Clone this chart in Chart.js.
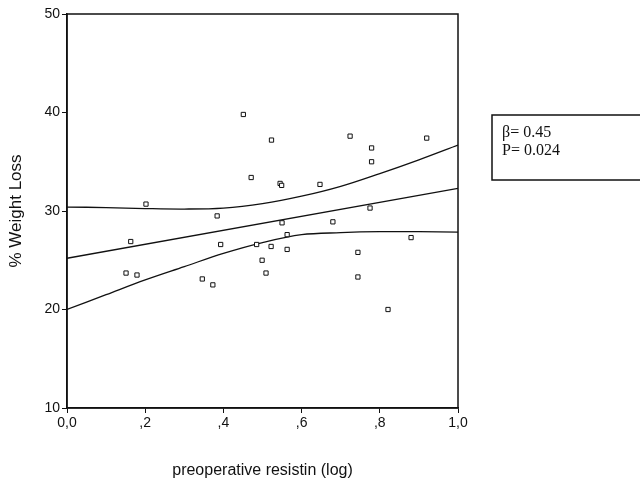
<!DOCTYPE html>
<html>
<head>
<meta charset="utf-8">
<script src="https://cdn.jsdelivr.net/npm/chart.js@4"></script>
<style>
  html, body { margin: 0; padding: 0; background: #fff; }
  #wrap { width: 640px; height: 480px; }
</style>
</head>
<body>
<div id="wrap"><canvas id="chart" width="640" height="480"></canvas></div>
<script>
// scatter points
const resistin = [0.151, 0.163, 0.179, 0.202, 0.346, 0.373, 0.384, 0.393, 0.451, 0.471,
                  0.485, 0.499, 0.509, 0.523, 0.522, 0.545, 0.549, 0.550, 0.563, 0.563,
                  0.647, 0.680, 0.724, 0.744, 0.744, 0.775, 0.779, 0.779, 0.821, 0.880, 0.920];
const weightLoss = [23.7, 26.9, 23.5, 30.7, 23.1, 22.5, 29.5, 26.6, 39.8, 33.4,
                    26.6, 25.0, 23.7, 37.2, 26.4, 32.8, 32.6, 28.8, 27.6, 26.1,
                    32.7, 28.9, 37.6, 25.8, 23.3, 30.3, 36.4, 35.0, 20.0, 27.3, 37.4];

// regression line and confidence band
const fitX = [0, 1];
const fitY = [25.2, 32.3];
const bandX = [0, 0.1, 0.2, 0.3, 0.4, 0.5, 0.6, 0.7, 0.8, 0.9, 1.0];
const upperBand = [30.4, 30.35, 30.25, 30.2, 30.3, 30.75, 31.5, 32.5, 33.8, 35.2, 36.7];
const lowerBand = [20.0, 21.5, 23.0, 24.35, 25.7, 26.8, 27.6, 27.8, 27.9, 27.9, 27.85];

const xTickValues = [0, 0.2, 0.4, 0.6, 0.8, 1.0];
const xTickLabels = ['0,0', ',2', ',4', ',6', ',8', '1,0'];
const yTickValues = [10, 20, 30, 40, 50];

const statLines = ['\u03b2= 0.45', 'P= 0.024'];

const toPoints = (xs, ys) => xs.map((x, i) => ({ x: x, y: ys[i] }));

const lineStyle = {
    type: 'line',
    borderColor: '#111',
    borderWidth: 1.3,
    pointRadius: 0,
    fill: false,
    tension: 0.35
};

// frame around plot + the stats box on the right
const framePlugin = {
    id: 'frame',
    afterDraw(chart) {
        const ctx = chart.ctx;
        const a = chart.chartArea;
        ctx.save();
        ctx.strokeStyle = '#111';
        ctx.lineWidth = 1.5;
        ctx.strokeRect(a.left, a.top, a.right - a.left, a.bottom - a.top);

        const bx = a.right + 34, by = 115;
        ctx.strokeRect(bx, by, 200, 65);
        ctx.fillStyle = '#111';
        ctx.font = '16px "Liberation Serif", "Times New Roman", serif';
        ctx.textBaseline = 'middle';
        ctx.fillText(statLines[0], bx + 10, by + 18);
        ctx.fillText(statLines[1], bx + 10, by + 36);
        ctx.restore();
    }
};

new Chart(document.getElementById('chart'), {
    type: 'scatter',
    data: {
        datasets: [
            {
                label: 'points',
                data: toPoints(resistin, weightLoss),
                pointStyle: 'rect',
                pointRadius: 3,
                backgroundColor: '#fff',
                borderColor: '#111',
                borderWidth: 1
            },
            Object.assign({ label: 'fit', data: toPoints(fitX, fitY) }, lineStyle, { tension: 0 }),
            Object.assign({ label: 'upper', data: toPoints(bandX, upperBand) }, lineStyle),
            Object.assign({ label: 'lower', data: toPoints(bandX, lowerBand) }, lineStyle)
        ]
    },
    options: {
        responsive: false,
        animation: false,
        layout: { padding: { top: 14, right: 182, bottom: 0, left: 0 } },
        plugins: {
            legend: { display: false },
            tooltip: { enabled: false }
        },
        scales: {
            x: {
                type: 'linear',
                min: 0,
                max: 1,
                afterBuildTicks: scale => { scale.ticks = xTickValues.map(v => ({ value: v })); },
                afterFit: scale => { scale.height = 72; },
                ticks: {
                    callback: (v, i) => xTickLabels[i],
                    color: '#111',
                    padding: 2,
                    maxRotation: 0,
                    font: { family: '"Liberation Sans", Arial, sans-serif', size: 14 }
                },
                grid: { drawOnChartArea: false, tickLength: 5, color: '#111' },
                border: { color: '#111', width: 1.5 },
                title: {
                    display: true,
                    text: 'preoperative resistin (log)',
                    color: '#111',
                    padding: { top: 0, bottom: 0 },
                    font: { family: '"Liberation Sans", Arial, sans-serif', size: 16 }
                }
            },
            y: {
                type: 'linear',
                min: 10,
                max: 50,
                afterBuildTicks: scale => { scale.ticks = yTickValues.map(v => ({ value: v })); },
                afterFit: scale => { scale.width = 67; },
                ticks: {
                    color: '#111',
                    padding: 2,
                    font: { family: '"Liberation Sans", Arial, sans-serif', size: 14 }
                },
                grid: { drawOnChartArea: false, tickLength: 5, color: '#111' },
                border: { color: '#111', width: 1.5 },
                title: {
                    display: true,
                    text: '% Weight Loss',
                    color: '#111',
                    padding: { top: 6, bottom: 0 },
                    font: { family: '"Liberation Sans", Arial, sans-serif', size: 17 }
                }
            }
        }
    },
    plugins: [framePlugin]
});
</script>
</body>
</html>
